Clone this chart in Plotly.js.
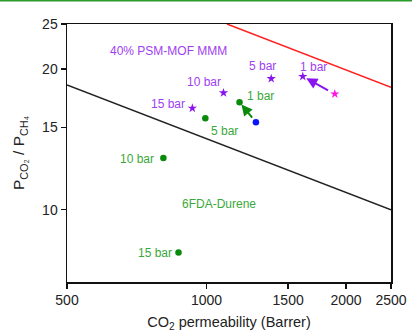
<!DOCTYPE html>
<html><head><meta charset="utf-8">
<script src="https://cdn.plot.ly/plotly-3.0.1.min.js"></script>
<style>html,body{margin:0;padding:0;background:#fff;}#chart{width:412px;height:333px;}</style>
</head><body><div id="chart"></div>
<script>
// 6FDA-Durene (green circles)
const durenePressure = ['1 bar', '5 bar', '10 bar', '15 bar'];
const dureneP = [1178, 994, 807, 870];
const dureneSel = [17.0, 15.7, 12.9, 8.1];
// start point of the green arrow (blue circle)
const blueP = [1278];
const blueSel = [15.4];
// 40% PSM-MOF MMM (purple stars)
const mmmPressure = ['1 bar', '5 bar', '10 bar', '15 bar'];
const mmmP = [1613, 1379, 1088, 932];
const mmmSel = [19.3, 19.1, 17.8, 16.5];
// start point of the purple arrow (magenta star)
const magentaP = [1891];
const magentaSel = [17.7];
// upper bound lines
const bound1991X = [500, 2500];
const bound1991Y = [18.5, 10.0];
const bound2008X = [1107, 2500];
const bound2008Y = [25, 18.3];

const xTicks = [500, 1000, 1500, 2000, 2500];
const yTicks = [10, 15, 20, 25];

const green = '#0a8a0a', greenText = '#3aa83a', purpleText = '#a040f0';
const font = 'Arial, "Liberation Sans", sans-serif';

const traces = [
  {x: bound1991X, y: bound1991Y, mode: 'lines', line: {color: '#222', width: 1.5}, hoverinfo: 'skip'},
  {x: bound2008X, y: bound2008Y, mode: 'lines', line: {color: '#ff2020', width: 1.5}, hoverinfo: 'skip'},
  {x: dureneP, y: dureneSel, mode: 'markers', marker: {color: green, size: 6.5, symbol: 'circle'}},
  {x: blueP, y: blueSel, mode: 'markers', marker: {color: '#0a14ff', size: 6.5, symbol: 'circle'}},
  {x: mmmP, y: mmmSel, mode: 'markers', marker: {color: '#8a14f0', size: 7, symbol: 'star'}},
  {x: magentaP, y: magentaSel, mode: 'markers', marker: {color: '#ff14e6', size: 7, symbol: 'star'}}
];

// label positions in paper coords
const L = 66.5, T = 24, W = 324.5, H = 258;
function px(x){return (x - L)/W;}
function py(y){return (T + H - y)/H;}
function lbl(text, x, y, color){
  return {text: text, xref: 'paper', yref: 'paper', x: px(x), y: py(y), showarrow: false,
          xanchor: 'center', yanchor: 'middle', font: {family: font, size: 12, color: color}};
}
const annotations = [
  lbl('40% PSM-MOF MMM', 168, 50.7, purpleText),
  lbl(mmmPressure[0], 313.3, 66.7, purpleText),
  lbl(mmmPressure[1], 262.7, 65.7, purpleText),
  lbl(mmmPressure[2], 204, 81.7, purpleText),
  lbl(mmmPressure[3], 167.7, 104.3, purpleText),
  lbl(durenePressure[0], 260.3, 96.3, greenText),
  lbl(durenePressure[1], 224.3, 130.7, greenText),
  lbl(durenePressure[2], 137, 158.7, greenText),
  lbl(durenePressure[3], 154.3, 253, greenText),
  lbl('6FDA-Durene', 219, 204.3, greenText),
  {x: Math.log10(dureneP[0]), y: Math.log10(dureneSel[0]), ax: Math.log10(blueP[0]), ay: Math.log10(blueSel[0]),
   xref: 'x', yref: 'y', axref: 'x', ayref: 'y', showarrow: true, arrowhead: 2, arrowsize: 1.1, arrowwidth: 2,
   arrowcolor: green, standoff: 3, startstandoff: 4, text: ''},
  {x: Math.log10(mmmP[0]), y: Math.log10(mmmSel[0]), ax: Math.log10(magentaP[0]), ay: Math.log10(magentaSel[0]),
   xref: 'x', yref: 'y', axref: 'x', ayref: 'y', showarrow: true, arrowhead: 2, arrowsize: 1.1, arrowwidth: 2,
   arrowcolor: '#8a14f0', standoff: 4, startstandoff: 6, text: ''}
];

const layout = {
  width: 412, height: 333,
  margin: {l: 66.5, r: 21, t: 24, b: 51},
  paper_bgcolor: '#fff', plot_bgcolor: '#fff',
  showlegend: false,
  font: {family: font, color: '#222', size: 14},
  xaxis: {type: 'log', range: [Math.log10(500), Math.log10(2500)], tickvals: xTicks, ticktext: xTicks.map(String),
          showgrid: false, zeroline: false, showline: true, linecolor: '#111', linewidth: 1.5, mirror: true,
          ticks: 'outside', ticklen: 5, tickwidth: 1.5, tickcolor: '#111',
          tickfont: {family: font, size: 14, color: '#222'},
          title: {text: 'CO<sub>2</sub> permeability (Barrer)', font: {family: font, size: 14.5, color: '#222'}, standoff: 9}},
  yaxis: {type: 'log', range: [Math.log10(7), Math.log10(25)], tickvals: yTicks, ticktext: yTicks.map(String),
          showgrid: false, zeroline: false, showline: true, linecolor: '#111', linewidth: 1.5, mirror: true,
          ticks: 'outside', ticklen: 5, tickwidth: 1.5, tickcolor: '#111',
          tickfont: {family: font, size: 14, color: '#222'},
          title: {text: 'P<sub>CO₂</sub> / P<sub>CH₄</sub>', font: {family: font, size: 15.5, color: '#222'}, standoff: 13}},
  annotations: annotations,
  shapes: [{type: 'line', xref: 'paper', yref: 'paper', x0: -0.25, x1: 1.1, y0: py(0.5), y1: py(0.5),
            line: {color: '#2a9a2a', width: 2}}]
};

Plotly.newPlot('chart', traces, layout, {staticPlot: true, displayModeBar: false});
</script></body></html>
